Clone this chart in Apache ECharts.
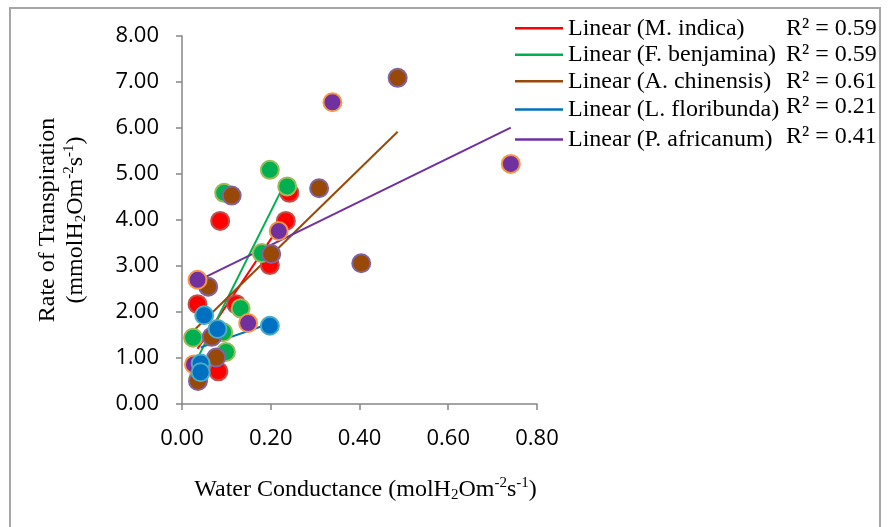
<!DOCTYPE html>
<html>
<head>
<meta charset="utf-8">
<script src="https://cdn.jsdelivr.net/npm/echarts@6/dist/echarts.min.js"></script>
<style>
html,body{margin:0;padding:0;background:#fff;}
#chart{width:889px;height:527px;}
</style>
</head>
<body>
<div id="chart"></div>
<script>
// ---- data ----
const xTicks = [0, 0.2, 0.4, 0.6, 0.8];
const yTicks = [0, 1, 2, 3, 4, 5, 6, 7, 8];

const speciesNames = ['M. indica', 'F. benjamina', 'A. chinensis', 'L. floribunda', 'P. africanum'];
const rSquared = ['0.59', '0.59', '0.61', '0.21', '0.41'];

const indicaX = [0.242, 0.086, 0.234, 0.198, 0.035, 0.122, 0.082];
const indicaY = [4.59, 3.98, 3.98, 3.02, 2.17, 2.17, 0.71];

const benjaminaX = [0.198, 0.237, 0.095, 0.180, 0.132, 0.093, 0.025, 0.099, 0.037];
const benjaminaY = [5.09, 4.73, 4.59, 3.28, 2.08, 1.56, 1.44, 1.13, 0.56];

const chinensisX = [0.486, 0.309, 0.112, 0.201, 0.404, 0.059, 0.067, 0.077, 0.036];
const chinensisY = [7.09, 4.69, 4.53, 3.26, 3.06, 2.55, 1.46, 1.01, 0.50];

const floribundaX = [0.050, 0.198, 0.080, 0.042, 0.042];
const floribundaY = [1.93, 1.70, 1.63, 0.88, 0.69];

const africanumX = [0.339, 0.741, 0.218, 0.035, 0.149, 0.027];
const africanumY = [6.56, 5.22, 3.76, 2.70, 1.76, 0.86];

// trendline end points (x1, x2) and (y1, y2)
const indicaTrendX = [0.035, 0.236];
const indicaTrendY = [1.20, 4.10];
const benjaminaTrendX = [0.025, 0.237];
const benjaminaTrendY = [0.80, 4.90];
const chinensisTrendX = [0.029, 0.486];
const chinensisTrendY = [1.62, 5.92];
const floribundaTrendX = [0.042, 0.198];
const floribundaTrendY = [1.23, 1.75];
const africanumTrendX = [0.027, 0.741];
const africanumTrendY = [2.64, 6.01];

// ---- styling ----
const fills = ['#ff0000', '#00b050', '#984807', '#0070c0', '#7030a0'];
const borders = ['#c0504d', '#9bbb59', '#8064a2', '#4bacc6', '#f79646'];
const lineColors = ['#ff0000', '#00b050', '#984807', '#0070c0', '#7030a0'];

const pts = [
  [indicaX, indicaY], [benjaminaX, benjaminaY], [chinensisX, chinensisY],
  [floribundaX, floribundaY], [africanumX, africanumY]
];
const trends = [
  [indicaTrendX, indicaTrendY], [benjaminaTrendX, benjaminaTrendY], [chinensisTrendX, chinensisTrendY],
  [floribundaTrendX, floribundaTrendY], [africanumTrendX, africanumTrendY]
];
const zip = (xs, ys) => xs.map((x, i) => [x, ys[i]]);

const serif = "'Liberation Serif', 'Times New Roman', serif";
const sans = "'Open Sans', 'Liberation Sans', sans-serif";

const series = [];
// trendlines underneath markers
trends.forEach((t, i) => {
  series.push({
    name: 'Linear (' + speciesNames[i] + ')',
    type: 'line',
    data: zip(t[0], t[1]),
    symbol: 'none',
    lineStyle: { color: lineColors[i], width: 2 },
    itemStyle: { color: lineColors[i] },
    z: 2,
    silent: true
  });
});
// marker draw order: red, green, brown, purple, blue
const order = [0, 1, 2, 4, 3];
order.forEach((i, k) => {
  series.push({
    name: speciesNames[i],
    type: 'scatter',
    data: zip(pts[i][0], pts[i][1]),
    symbol: 'circle',
    symbolSize: 18,
    itemStyle: { color: fills[i], borderColor: borders[i], borderWidth: 2, opacity: 1 },
    z: 3 + k
  });
});

const subSup = (fs) => ({
  t: { fontFamily: serif, fontSize: fs, lineHeight: 28, color: '#000' },
  sb: { fontFamily: serif, fontSize: Math.round(fs * 0.63), lineHeight: 14, padding: [10, 0, 0, 0], color: '#000' },
  sp: { fontFamily: serif, fontSize: Math.round(fs * 0.63), lineHeight: 14, padding: [0, 0, 14, 0], color: '#000' }
});

const option = {
  animation: false,
  backgroundColor: '#fff',
  grid: { left: 182, right: 352, top: 36, bottom: 123, containLabel: false },
  xAxis: {
    type: 'value',
    min: xTicks[0], max: xTicks[xTicks.length - 1], interval: 0.2,
    splitLine: { show: false },
    axisLine: { show: true, onZero: false, lineStyle: { color: '#868686', width: 1.5 } },
    axisTick: { show: true, length: 6, lineStyle: { color: '#868686', width: 1.5 } },
    axisLabel: { margin: 24, color: '#000', fontFamily: sans, fontSize: 22, formatter: v => v.toFixed(2) },
    name: '{t|Water Conductance (molH}{sb|2}{t|Om}{sp|-2}{t|s}{sp|-1}{t|)}',
    nameLocation: 'middle',
    nameGap: 72,
    nameTextStyle: { rich: subSup(24), padding: [0, 0, 0, 12] }
  },
  yAxis: {
    type: 'value',
    min: yTicks[0], max: yTicks[yTicks.length - 1], interval: 1,
    splitLine: { show: false },
    axisLine: { show: true, lineStyle: { color: '#868686', width: 1.5 } },
    axisTick: { show: true, length: 6, lineStyle: { color: '#868686', width: 1.5 } },
    axisLabel: { margin: 23, color: '#000', fontFamily: sans, fontSize: 22, formatter: v => v.toFixed(2) },
    name: '{t|Rate of Transpiration}\n{t|(mmolH}{sb|2}{t|Om}{sp|-2}{t|s}{sp|-1}{t|)}',
    nameLocation: 'middle',
    nameRotate: 90,
    nameGap: 92,
    nameTextStyle: { rich: subSup(24) }
  },
  legend: {
    orient: 'vertical',
    left: 515,
    top: 15,
    padding: 0,
    itemGap: 0,
    itemWidth: 48,
    itemHeight: 2.5,
    icon: 'rect',
    data: speciesNames.map(n => 'Linear (' + n + ')'),
    formatter: function (name) {
      const i = speciesNames.findIndex(n => 'Linear (' + n + ')' === name);
      const r = i >= 3 ? 'r2' : 'r';
      return '{n|' + name + '}{' + r + '|R² = ' + rSquared[i] + '}';
    },
    textStyle: {
      fontFamily: serif, fontSize: 24, color: '#000', lineHeight: 26.5,
      rich: {
        n: { fontFamily: serif, fontSize: 24, width: 218, lineHeight: 26.5, color: '#000' },
        r: { fontFamily: serif, fontSize: 24, lineHeight: 26.5, color: '#000' },
        r2: { fontFamily: serif, fontSize: 24, lineHeight: 20, padding: [0, 0, 6, 0], color: '#000' }
      }
    },
    selectedMode: false
  },
  graphic: [{
    type: 'rect',
    shape: { x: 10, y: 8, width: 870, height: 540 },
    style: { fill: 'none', stroke: '#a6a6a6', lineWidth: 2 },
    silent: true,
    z: -1
  }],
  series: series
};

const chart = echarts.init(document.getElementById('chart'), null, { renderer: 'canvas' });
chart.setOption(option);
</script>
</body>
</html>
